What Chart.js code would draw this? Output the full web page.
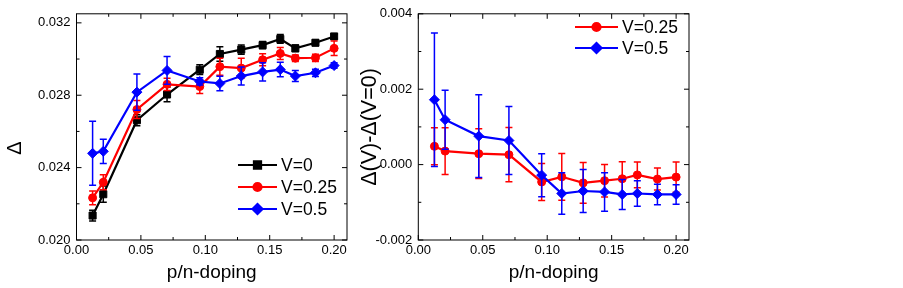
<!DOCTYPE html>
<html><head><meta charset="utf-8">
<script src="https://cdn.jsdelivr.net/npm/chart.js@4/dist/chart.umd.min.js"></script>
<style>
html,body{margin:0;padding:0;background:#fff;}
#wrap{position:relative;width:903px;height:288px;background:#fff;}
.c{position:absolute;top:0;width:360px;height:288px;}
</style></head><body>
<div id="wrap">
<div class="c" style="left:0"><canvas id="c1"></canvas></div>
<div class="c" style="left:360px"><canvas id="c2"></canvas></div>
</div>
<script>
// ---- data ----
const doping = [0.0125, 0.0208, 0.0469, 0.0703, 0.0957, 0.1113, 0.1279, 0.1445, 0.1582, 0.1699, 0.1855, 0.2000];

const gapV0   = [0.02135, 0.02253, 0.02662, 0.02804, 0.02941, 0.03028, 0.03052, 0.03077, 0.03111, 0.03059, 0.03090, 0.03125];
const errV0   = [0.00030, 0.00045, 0.00030, 0.00040, 0.00027, 0.00040, 0.00025, 0.00020, 0.00024, 0.00018, 0.00015, 0.00012];
const gapV025 = [0.02233, 0.02319, 0.02721, 0.02860, 0.02848, 0.02958, 0.02950, 0.02996, 0.03031, 0.03005, 0.03007, 0.03059];
const errV025 = [0.00038, 0.00042, 0.00050, 0.00034, 0.00038, 0.00047, 0.00055, 0.00033, 0.00033, 0.00018, 0.00020, 0.00040];
const gapV05  = [0.02479, 0.02490, 0.02817, 0.02937, 0.02876, 0.02865, 0.02906, 0.02929, 0.02942, 0.02906, 0.02924, 0.02964];
const errV05  = [0.00177, 0.00067, 0.00100, 0.00077, 0.00020, 0.00040, 0.00050, 0.00050, 0.00040, 0.00030, 0.00020, 0.00015];

const diffV025 = [0.000485, 0.000358, 0.000289, 0.000263, -0.00046, -0.000324, -0.000485, -0.000427, -0.000375, -0.000273, -0.000383, -0.000332];
const errD025  = [0.00049, 0.00062, 0.00066, 0.00072, 0.00049, 0.00062, 0.00054, 0.00043, 0.00045, 0.00034, 0.00029, 0.00040];
const diffV05  = [0.00172, 0.00119, 0.000756, 0.000639, -0.00028, -0.000766, -0.00070, -0.000725, -0.000792, -0.000766, -0.000792, -0.000792];
const errD05   = [0.00177, 0.00078, 0.00110, 0.00090, 0.00057, 0.00055, 0.00057, 0.00051, 0.00040, 0.00034, 0.00027, 0.00026];

const xTicks = [0, 0.05, 0.10, 0.15, 0.20];
const xMinor = [0.025, 0.075, 0.125, 0.175];
const leftYTicks = [0.020, 0.024, 0.028, 0.032];
const leftYMinor = [0.022, 0.026, 0.030];
const rightYTicks = [-0.002, 0.000, 0.002, 0.004];
const rightYMinor = [-0.001, 0.001, 0.003];

const labelsLeft = ['V=0', 'V=0.25', 'V=0.5'];
const labelsRight = ['V=0.25', 'V=0.5'];

// ---- helpers ----
const FONT = "'Liberation Sans', Arial, sans-serif";
const pts = (xs, ys) => xs.map((x, i) => ({x, y: ys[i]}));

const errorBars = {
  id: 'errorBars',
  afterDatasetDraw(chart, args) {
    const ds = chart.data.datasets[args.index];
    if (!ds.err) return;
    const meta = args.meta, ys = chart.scales.y, ctx = chart.ctx;
    ctx.save();
    ctx.strokeStyle = ds.borderColor;
    ctx.lineWidth = 1.5;
    meta.data.forEach((p, i) => {
      const v = ds.data[i].y, e = ds.err[i];
      const y1 = ys.getPixelForValue(v + e), y2 = ys.getPixelForValue(v - e);
      const x = p.x;
      ctx.beginPath();
      ctx.moveTo(x, y1); ctx.lineTo(x, y2);
      ctx.moveTo(x - 3.5, y1); ctx.lineTo(x + 3.5, y1);
      ctx.moveTo(x - 3.5, y2); ctx.lineTo(x + 3.5, y2);
      ctx.stroke();
    });
    ctx.restore();
  }
};

const frame = {
  id: 'frame',
  afterDraw(chart, args, opts) {
    const {ctx, chartArea: a, scales} = chart;
    ctx.save();
    ctx.strokeStyle = '#000';
    ctx.lineWidth = 1;
    ctx.strokeRect(a.left, a.top, a.right - a.left, a.bottom - a.top);
    ctx.beginPath();
    const tx = (vals, len) => vals.forEach(v => {
      const x = scales.x.getPixelForValue(v);
      ctx.moveTo(x, a.bottom); ctx.lineTo(x, a.bottom - len);
      ctx.moveTo(x, a.top); ctx.lineTo(x, a.top + len);
    });
    const ty = (vals, len) => vals.forEach(v => {
      const y = scales.y.getPixelForValue(v);
      ctx.moveTo(a.left, y); ctx.lineTo(a.left + len, y);
      ctx.moveTo(a.right, y); ctx.lineTo(a.right - len, y);
    });
    tx(opts.xMajor, 5); tx(opts.xMinor, 3);
    ty(opts.yMajor, 5); ty(opts.yMinor, 3);
    ctx.stroke();
    // rotated y-axis title
    ctx.translate(opts.titleX, opts.titleY);
    ctx.rotate(-Math.PI / 2);
    ctx.fillStyle = '#000';
    ctx.font = opts.titleFont;
    ctx.textAlign = 'center';
    ctx.textBaseline = 'middle';
    ctx.fillText(opts.title, 0, 0);
    ctx.restore();
  }
};

const legendBox = {
  id: 'legendBox',
  afterDraw(chart, args, opts) {
    const ctx = chart.ctx;
    ctx.save();
    opts.order.forEach((di, k) => {
      const ds = chart.data.datasets[di];
      const y = opts.y + k * opts.dy;
      ctx.strokeStyle = ds.borderColor;
      ctx.lineWidth = 2.2;
      ctx.beginPath();
      ctx.moveTo(opts.x0, y); ctx.lineTo(opts.x1, y);
      ctx.stroke();
      ctx.fillStyle = ds.borderColor;
      Chart.helpers.drawPoint(ctx, {pointStyle: ds.pointStyle, radius: ds.pointRadius, borderWidth: 1}, (opts.x0 + opts.x1) / 2, y);
      ctx.fill();
      ctx.fillStyle = '#000';
      ctx.font = opts.font;
      ctx.textBaseline = 'middle';
      ctx.textAlign = 'left';
      ctx.fillText(ds.label, opts.x1 + 4, y + 1);
    });
    ctx.restore();
  }
};

function series(label, data, err, color, style, radius, order) {
  return {label, data, err, borderColor: color, backgroundColor: color,
    pointBackgroundColor: color, pointBorderColor: color, pointStyle: style,
    pointRadius: radius, pointBorderWidth: 1, borderWidth: 2.2, tension: 0, order};
}

function makeChart(id, cfg) {
  return new Chart(document.getElementById(id), {
    type: 'line',
    data: {datasets: cfg.datasets},
    plugins: [errorBars, frame, legendBox],
    options: {
      responsive: true, maintainAspectRatio: false, animation: false,
      events: [],
      layout: {padding: cfg.padding},
      plugins: {
        legend: {display: false}, tooltip: {enabled: false},
        frame: {xMajor: xTicks, xMinor: xMinor, yMajor: cfg.yTicks, yMinor: cfg.yMinor,
          title: cfg.yTitle, titleX: cfg.yTitleX, titleY: cfg.yTitleY, titleFont: cfg.yTitleFont},
        legendBox: cfg.legend
      },
      scales: {
        x: {
          type: 'linear', min: 0, max: 0.21,
          afterBuildTicks: s => { s.ticks = xTicks.map(v => ({value: v})); },
          afterFit: s => { s.height = 48; },
          grid: {display: false, drawTicks: false}, border: {display: false},
          ticks: {color: '#000', font: {family: FONT, size: 13}, padding: 3, maxRotation: 0,
            callback: v => v.toFixed(2)},
          title: {display: true, text: 'p/n-doping', color: '#000', font: {family: FONT, size: 19},
            padding: {top: 0, bottom: 4}}
        },
        y: {
          type: 'linear', min: cfg.yMin, max: cfg.yMax,
          afterBuildTicks: s => { s.ticks = cfg.yTicks.map(v => ({value: v})); },
          afterFit: s => { s.width = cfg.yWidth; },
          grid: {display: false, drawTicks: false}, border: {display: false},
          ticks: {color: '#000', font: {family: FONT, size: 13}, padding: 6,
            callback: v => v.toFixed(3)},
          title: {display: false}
        }
      }
    }
  });
}

makeChart('c1', {
  datasets: [
    series(labelsLeft[0], pts(doping, gapV0), errV0, '#000000', 'rect', 5, 3),
    series(labelsLeft[1], pts(doping, gapV025), errV025, '#ff0000', 'circle', 4, 2),
    series(labelsLeft[2], pts(doping, gapV05), errV05, '#0000ff', 'rectRot', 5, 1)
  ],
  padding: {left: 0, right: 13, top: 8.5, bottom: 0},
  yMin: 0.020, yMax: 0.0325, yTicks: leftYTicks, yMinor: leftYMinor, yWidth: 76.5,
  yTitle: 'Δ', yTitleX: 15, yTitleY: 148, yTitleFont: "20px " + FONT,
  legend: {order: [0, 1, 2], x0: 238, x1: 277, y: 165, dy: 22, font: "17.5px " + FONT}
});

makeChart('c2', {
  datasets: [
    series(labelsRight[0], pts(doping, diffV025), errD025, '#ff0000', 'circle', 4, 2),
    series(labelsRight[1], pts(doping, diffV05), errD05, '#0000ff', 'rectRot', 5, 1)
  ],
  padding: {left: 0, right: 31, top: 8.7, bottom: 0},
  yMin: -0.002, yMax: 0.004, yTicks: rightYTicks, yMinor: rightYMinor, yWidth: 58.3,
  yTitle: 'Δ(V)-Δ(V=0)', yTitleX: 10, yTitleY: 127, yTitleFont: "21.5px " + FONT,
  legend: {order: [0, 1], x0: 215, x1: 258, y: 27, dy: 21, font: "17.5px " + FONT}
});
</script>
</body></html>
